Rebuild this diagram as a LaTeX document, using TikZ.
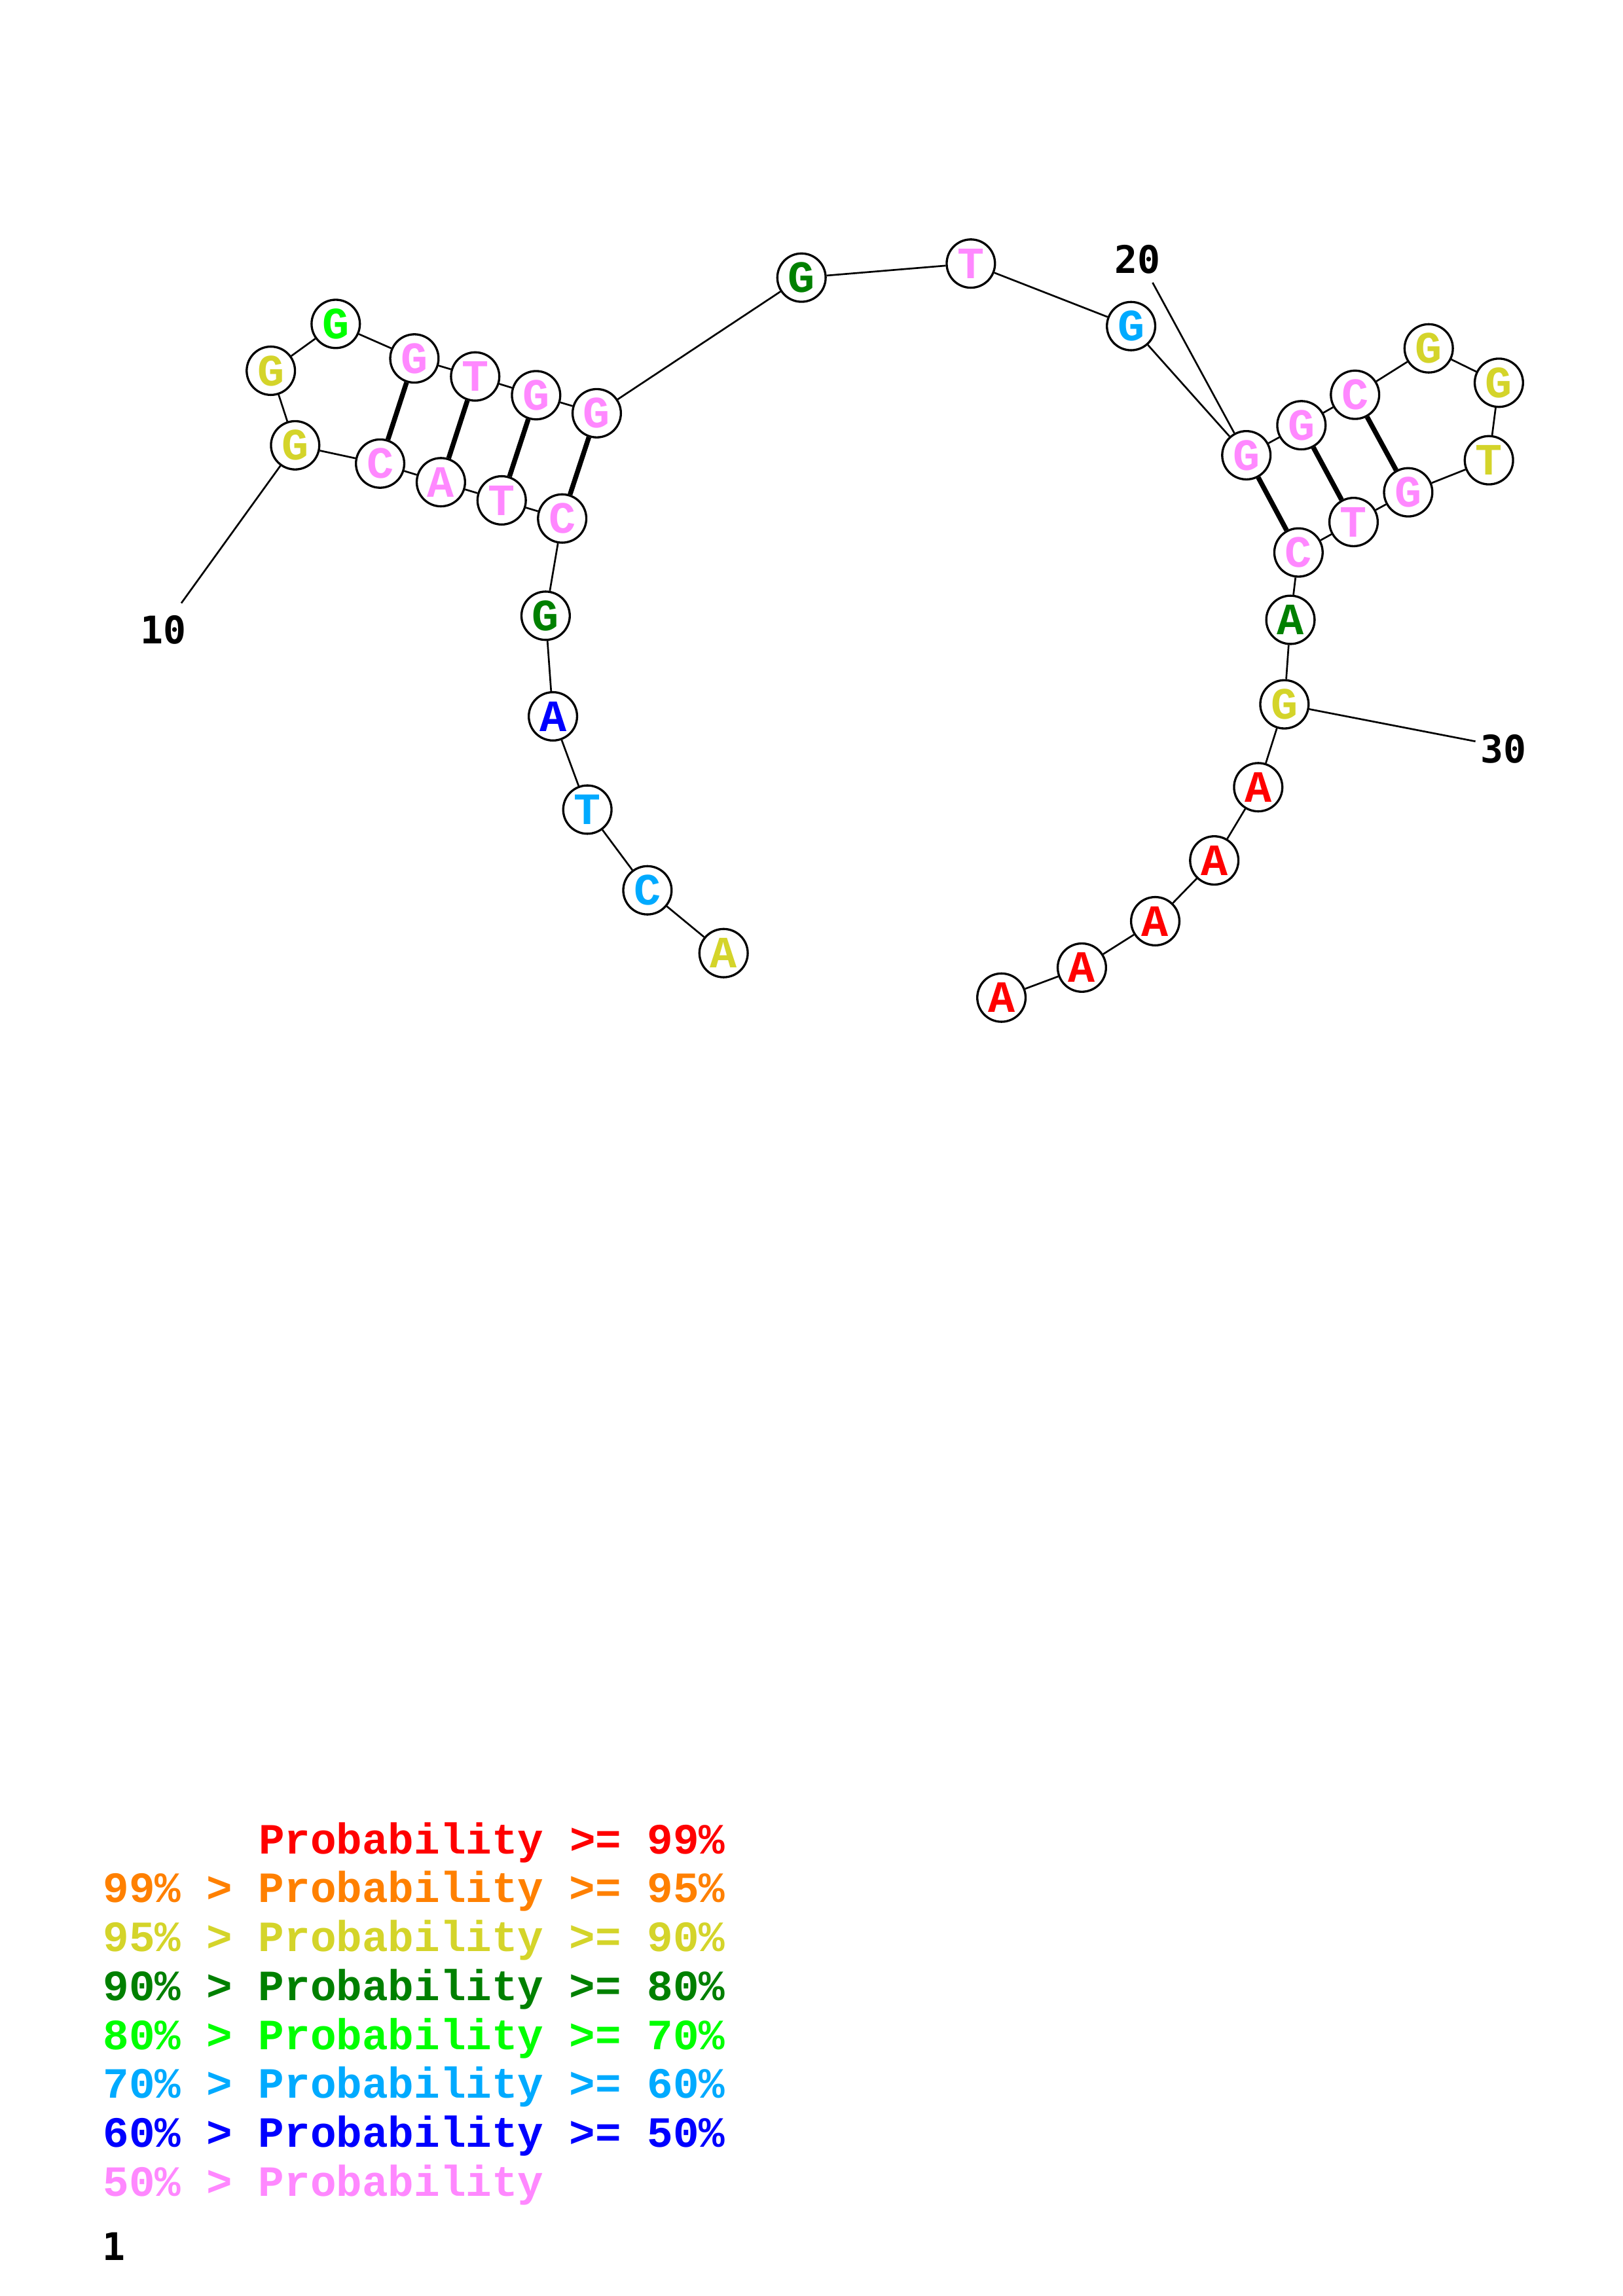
\documentclass[tikz,border=0pt]{standalone}
\usepackage{fontspec}
\setmonofont{Liberation Mono}
\newfontfamily\numfont{DejaVu Sans Mono}
\definecolor{pred}{RGB}{255,0,0}
\definecolor{porange}{RGB}{255,128,0}
\definecolor{pyellow}{RGB}{212,212,42}
\definecolor{pdkgreen}{RGB}{0,128,0}
\definecolor{pgreen}{RGB}{0,255,0}
\definecolor{pcyan}{RGB}{0,170,255}
\definecolor{pblue}{RGB}{0,0,255}
\definecolor{ppink}{RGB}{255,136,255}

\begin{document}
\begin{tikzpicture}[x=0.018953cm,y=-0.018953cm,
  nt/.style={circle,draw=black,line width=0.8pt,fill=white,minimum size=0.625cm,inner sep=0pt,font=\ttfamily\bfseries\fontsize{16.5}{16.5}\selectfont},
  bb/.style={line width=0.65pt},
  pair/.style={line width=1.8pt},
  poslabel/.style={inner sep=0pt,font=\numfont\bfseries\fontsize{14}{14}\selectfont},
  keytext/.style={anchor=base west,inner sep=0pt,font=\ttfamily\bfseries\fontsize{15.9}{15.9}\selectfont}]
\useasboundingbox (0,0) rectangle (1108,1568);

\node[nt,text=pyellow] (n1) at (494,650.9) {A};
\node[nt,text=pcyan] (n2) at (442,608) {C};
\node[nt,text=pcyan] (n3) at (401,552.9) {T};
\node[nt,text=pblue] (n4) at (377.5,489.2) {A};
\node[nt,text=pdkgreen] (n5) at (372.5,420.5) {G};
\node[nt,text=ppink] (n6) at (383.8,354.1) {C};
\node[nt,text=ppink] (n7) at (342.5,341.7) {T};
\node[nt,text=ppink] (n8) at (301,329.3) {A};
\node[nt,text=ppink] (n9) at (259.5,316.6) {C};
\node[nt,text=pyellow] (n10) at (201.5,304.1) {G};
\node[nt,text=pyellow] (n11) at (184.9,253.2) {G};
\node[nt,text=pgreen] (n12) at (229.2,221.2) {G};
\node[nt,text=ppink] (n13) at (282.9,244.8) {G};
\node[nt,text=ppink] (n14) at (324.4,257.1) {T};
\node[nt,text=ppink] (n15) at (366,269.9) {G};
\node[nt,text=ppink] (n16) at (407.4,282.2) {G};
\node[nt,text=pdkgreen] (n17) at (547.2,189.6) {G};
\node[nt,text=ppink] (n18) at (662.8,180) {T};
\node[nt,text=pcyan] (n19) at (772.2,222.7) {G};
\node[nt,text=ppink] (n20) at (850.9,310.9) {G};
\node[nt,text=ppink] (n21) at (888.5,290.4) {G};
\node[nt,text=ppink] (n22) at (925.1,269.6) {C};
\node[nt,text=pyellow] (n23) at (975.4,237.9) {G};
\node[nt,text=pyellow] (n24) at (1023.3,261.4) {G};
\node[nt,text=pyellow] (n25) at (1016.5,314.3) {T};
\node[nt,text=ppink] (n26) at (961.4,336.2) {G};
\node[nt,text=ppink] (n27) at (924.1,356.5) {T};
\node[nt,text=ppink] (n28) at (886.5,377.3) {C};
\node[nt,text=pdkgreen] (n29) at (881,423.3) {A};
\node[nt,text=pyellow] (n30) at (876.9,481) {G};
\node[nt,text=pred] (n31) at (859,537.6) {A};
\node[nt,text=pred] (n32) at (829,587.6) {A};
\node[nt,text=pred] (n33) at (788.7,629.1) {A};
\node[nt,text=pred] (n34) at (738.6,660.8) {A};
\node[nt,text=pred] (n35) at (683.7,681.3) {A};

% backbone
\draw[bb] (n1) -- (n2);
\draw[bb] (n2) -- (n3);
\draw[bb] (n3) -- (n4);
\draw[bb] (n4) -- (n5);
\draw[bb] (n5) -- (n6);
\draw[bb] (n6) -- (n7);
\draw[bb] (n7) -- (n8);
\draw[bb] (n8) -- (n9);
\draw[bb] (n9) -- (n10);
\draw[bb] (n10) -- (n11);
\draw[bb] (n11) -- (n12);
\draw[bb] (n12) -- (n13);
\draw[bb] (n13) -- (n14);
\draw[bb] (n14) -- (n15);
\draw[bb] (n15) -- (n16);
\draw[bb] (n16) -- (n17);
\draw[bb] (n17) -- (n18);
\draw[bb] (n18) -- (n19);
\draw[bb] (n19) -- (n20);
\draw[bb] (n20) -- (n21);
\draw[bb] (n21) -- (n22);
\draw[bb] (n22) -- (n23);
\draw[bb] (n23) -- (n24);
\draw[bb] (n24) -- (n25);
\draw[bb] (n25) -- (n26);
\draw[bb] (n26) -- (n27);
\draw[bb] (n27) -- (n28);
\draw[bb] (n28) -- (n29);
\draw[bb] (n29) -- (n30);
\draw[bb] (n30) -- (n31);
\draw[bb] (n31) -- (n32);
\draw[bb] (n32) -- (n33);
\draw[bb] (n33) -- (n34);
\draw[bb] (n34) -- (n35);

% pairs
\draw[pair] (n6) -- (n16);
\draw[pair] (n7) -- (n15);
\draw[pair] (n8) -- (n14);
\draw[pair] (n9) -- (n13);
\draw[pair] (n20) -- (n28);
\draw[pair] (n21) -- (n27);
\draw[pair] (n22) -- (n26);

% position labels
\node[poslabel] (l10) at (111.5,430) {10};
\node[poslabel] (l20) at (776.5,177) {20};
\node[poslabel] (l30) at (1026.3,511.3) {30};
\coordinate (t10) at (123.8,411.9);
\coordinate (t20) at (786.9,193);
\coordinate (t30) at (1007.3,506.3);
\draw[bb] (n10) -- (t10);
\draw[bb] (n20) -- (t20);
\draw[bb] (n30) -- (t30);

\node[keytext,text=pred] (k1) at (176.2,1265.9) {Probability >= 99\%};
\node[keytext,text=porange] (k2) at (70,1299.2) {99\% > Probability >= 95\%};
\node[keytext,text=pyellow] (k3) at (70,1332.8) {95\% > Probability >= 90\%};
\node[keytext,text=pdkgreen] (k4) at (70,1366) {90\% > Probability >= 80\%};
\node[keytext,text=pgreen] (k5) at (70,1399.6) {80\% > Probability >= 70\%};
\node[keytext,text=pcyan] (k6) at (70,1432.8) {70\% > Probability >= 60\%};
\node[keytext,text=pblue] (k7) at (70,1466.1) {60\% > Probability >= 50\%};
\node[keytext,text=ppink] (k8) at (70,1499.7) {50\% > Probability};
\node[poslabel,anchor=base west] (l1) at (69.4,1543.5) {1};

\end{tikzpicture}
\end{document}
